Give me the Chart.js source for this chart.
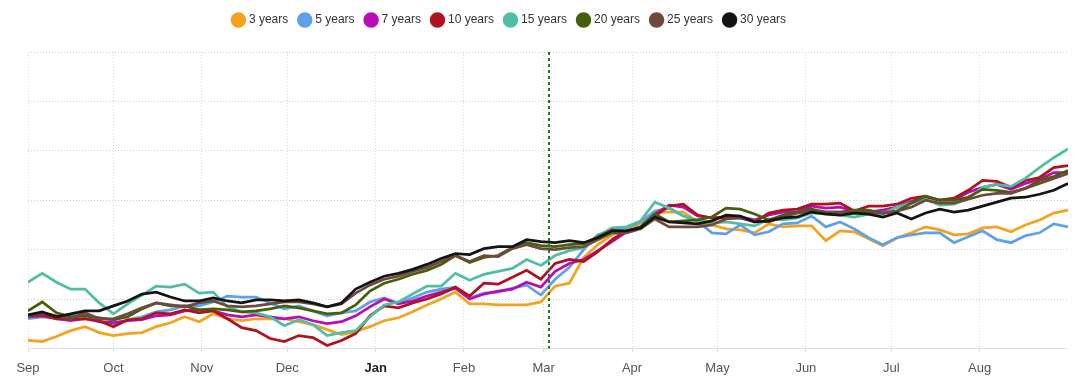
<!DOCTYPE html>
<html>
<head>
<meta charset="utf-8">
<script src="https://cdn.jsdelivr.net/npm/chart.js@4.4.1/dist/chart.umd.min.js"></script>
<style>
  html, body { margin: 0; padding: 0; background: #ffffff; }
  #wrap { width: 1088px; height: 384px; }
</style>
</head>
<body>
<div id="wrap"><canvas id="c" width="1088" height="384"></canvas></div>
<script>
// ---- Data (days since 1 Sep; values in arbitrary index units) ----
const days = [0,5,10,15,20,25,30,35,40,45,50,55,60,65,70,75,80,85,90,95,100,105,110,115,120,125,130,135,140,145,150,155,160,165,170,175,180,185,190,195,200,205,210,215,220,225,230,235,240,245,250,255,260,265,270,275,280,285,290,295,300,305,310,315,320,325,330,335,340,345,350,355,360,365];

const monthDays   = [0, 30, 61, 91, 122, 153, 181, 212, 242, 273, 303, 334];
const monthLabels = ['Sep','Oct','Nov','Dec','Jan','Feb','Mar','Apr','May','Jun','Jul','Aug'];
const yearStartDay = 122;
const markerDay = 183;

const seriesNames = ['3 years','5 years','7 years','10 years','15 years','20 years','25 years','30 years'];
const seriesColors = ['#f5a31f','#5fa0e6','#b70cb7','#b0121f','#4fbea3','#45600a','#6d4a3c','#141414'];

const y3  = [8,7,12,18,22,16,13,15,16,22,26,32,27,35,30,28,30,30,30,27,24,19,14,17,22,28,31,37,44,50,57,45,45,44,44,44,47,63,66,92,105,115,119,127,138,138,138,128,125,121,120,117,126,123,124,124,109,119,118,111,104,112,117,123,120,115,116,122,123,118,125,130,137,140];
const y5  = [30,32,31,34,35,27,24,29,32,37,39,43,43,47,53,52,52,46,40,43,38,33,36,38,47,51,46,51,57,60,62,51,56,57,61,64,54,70,82,100,115,119,122,128,139,142,134,129,117,116,125,115,118,126,127,134,123,128,121,112,105,112,115,117,117,107,113,119,110,107,114,117,126,123];
const y7  = [32,33,30,28,30,27,26,28,29,33,34,38,39,38,34,32,34,32,30,32,28,25,27,33,42,50,45,48,53,57,61,50,55,58,60,67,62,78,86,90,99,108,118,123,136,145,143,134,132,133,133,130,135,138,138,144,142,143,139,138,140,143,149,153,150,150,158,163,166,161,167,171,178,178];
const y10 = [33,34,30,30,30,28,22,29,30,36,35,39,36,38,30,21,18,10,7,13,11,3,8,15,33,43,41,46,50,55,62,53,66,65,72,79,70,86,90,88,98,110,119,122,134,144,146,135,132,132,132,128,137,140,141,146,146,147,139,144,144,146,152,154,150,152,160,170,169,163,170,173,183,185];
const y15 = [67,76,67,60,60,46,35,45,54,63,62,65,56,57,42,37,36,32,23,29,24,13,16,18,32,44,47,55,63,63,76,69,75,78,81,90,84,94,99,102,114,122,123,129,148,142,134,130,127,128,126,124,131,130,132,137,137,135,133,136,136,143,147,151,145,146,152,163,166,164,172,183,193,202];
const y20 = [38,47,36,32,33,31,29,32,40,46,43,43,39,40,39,37,38,40,43,41,38,35,36,44,58,66,70,75,79,85,94,87,92,94,102,107,104,103,105,106,113,120,118,123,136,128,129,130,133,142,141,136,130,135,138,141,138,138,140,140,137,139,147,154,150,150,153,161,160,158,162,170,174,180];
const y25 = [33,36,33,30,36,30,30,35,41,46,44,42,46,48,43,42,43,45,47,47,45,42,45,56,64,70,73,78,82,88,94,88,94,93,101,105,101,100,102,103,110,117,117,121,131,123,123,123,125,131,132,129,128,133,137,139,138,138,138,138,137,139,143,150,147,147,151,155,157,157,162,167,172,177];
const y30 = [34,37,32,35,38,38,43,48,55,57,52,48,48,51,48,46,49,49,48,49,46,42,46,60,67,73,76,80,85,91,96,95,101,103,103,110,108,107,109,107,112,119,119,122,133,128,127,126,129,135,134,128,129,132,133,138,136,135,137,136,133,137,131,137,141,138,140,144,148,152,153,156,160,167];

const seriesValues = [y3, y5, y7, y10, y15, y20, y25, y30];

// ---- Build datasets (reversed so the long maturities are drawn on top) ----
const datasets = seriesNames.map((name, i) => ({
  label: name,
  data: days.map((d, j) => ({ x: d, y: seriesValues[i][j] })),
  borderColor: seriesColors[i],
  backgroundColor: seriesColors[i],
  borderWidth: 2.75,
  pointRadius: 0,
  pointHoverRadius: 0,
  tension: 0,
  fill: false
})).reverse();

const FONT = "'Liberation Sans', Arial, Helvetica, sans-serif";

const legendTweak = {
  id: 'legendTweak',
  beforeInit(chart) {
    const lg = chart.legend;
    const fit = lg.fit;
    lg.fit = function () { fit.call(this); this.height += 16; };
    const draw = lg.draw;
    lg.draw = function () {
      const ctx = this.ctx;
      ctx.save();
      ctx.translate(-38, 0);
      draw.call(this);
      ctx.restore();
    };
  }
};

const axisAndMarker = {
  id: 'axisAndMarker',
  afterDatasetsDraw(chart) {
    const { ctx, chartArea, scales } = chart;
    // solid baseline
    ctx.save();
    ctx.strokeStyle = '#e2e2e2';
    ctx.lineWidth = 1;
    ctx.beginPath();
    ctx.moveTo(chartArea.left, Math.round(chartArea.bottom) + 0.5);
    ctx.lineTo(chartArea.right, Math.round(chartArea.bottom) + 0.5);
    ctx.stroke();
    ctx.restore();
    // marker
    const x = Math.round(scales.x.getPixelForValue(markerDay));
    ctx.save();
    ctx.strokeStyle = '#1e7b22';
    ctx.lineWidth = 2;
    ctx.setLineDash([3, 3]);
    ctx.beginPath();
    ctx.moveTo(x, chartArea.top);
    ctx.lineTo(x, chartArea.bottom);
    ctx.stroke();
    ctx.restore();
  }
};

new Chart(document.getElementById('c'), {
  type: 'line',
  data: { datasets },
  plugins: [legendTweak, axisAndMarker],
  options: {
    responsive: false,
    animation: false,
    events: [],
    layout: { padding: { left: 28, right: 20, top: 2, bottom: 0 } },
    plugins: {
      tooltip: { enabled: false },
      legend: {
        position: 'top',
        reverse: true,
        labels: {
          usePointStyle: true,
          pointStyle: 'circle',
          boxWidth: 9,
          boxHeight: 9,
          padding: 12,
          color: '#333333',
          font: { family: FONT, size: 12 }
        }
      }
    },
    scales: {
      x: {
        type: 'linear',
        min: 0,
        max: 365,
        afterBuildTicks(axis) { axis.ticks = monthDays.map(v => ({ value: v })); },
        grid: {
          color: '#d6d6d6',
          tickLength: 4,
          tickColor: '#dcdcdc',
          drawOnChartArea: true
        },
        border: { display: false, dash: [1, 2] },
        ticks: {
          autoSkip: false,
          maxRotation: 0,
          padding: 8,
          color: (c) => (c.tick && c.tick.value === yearStartDay) ? '#222222' : '#555555',
          font: (c) => ({ family: FONT, size: 13, weight: (c.tick && c.tick.value === yearStartDay) ? 'bold' : 'normal' }),
          callback: (value) => {
            const i = monthDays.indexOf(value);
            return i >= 0 ? monthLabels[i] : '';
          }
        }
      },
      y: {
        min: 0,
        max: 300,
        ticks: { display: false, stepSize: 50 },
        grid: { color: '#cfcfcf', drawTicks: false },
        border: { display: false, dash: [1, 2] }
      }
    }
  }
});
</script>
</body>
</html>
